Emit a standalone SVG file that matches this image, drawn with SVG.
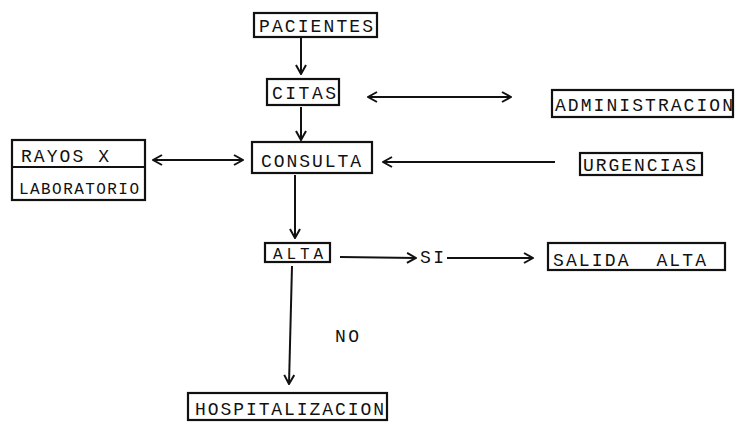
<svg xmlns="http://www.w3.org/2000/svg" width="737" height="422" viewBox="0 0 737 422">
<style>
.box{fill:#fff;stroke:#111;stroke-width:2.2}
.t{font-family:"Liberation Mono","DejaVu Sans Mono",monospace;font-size:18px;fill:#111}
.c{stroke:#111;stroke-width:2;fill:none;marker-end:url(#ah)}
.d{marker-start:url(#ah)}
</style>
<defs>
<marker id="ah" viewBox="0 0 12 12" refX="11" refY="6" markerWidth="12" markerHeight="12" markerUnits="userSpaceOnUse" orient="auto-start-reverse">
<path d="M2,1 L11,6 L2,11" fill="none" stroke="#111" stroke-width="2"/>
</marker>
</defs>
<rect width="737" height="422" fill="#fff"/>
<g id="connectors">
<line class="c" x1="301" y1="38" x2="301" y2="74"/>
<line class="c" x1="301" y1="107" x2="301" y2="140"/>
<line class="c d" x1="368" y1="97" x2="511" y2="97"/>
<line class="c d" x1="153" y1="160" x2="243" y2="160"/>
<line class="c" x1="555" y1="162" x2="383" y2="162"/>
<line class="c" x1="295" y1="175" x2="295" y2="238"/>
<line class="c" x1="340" y1="257" x2="416" y2="258"/>
<line class="c" x1="447" y1="258" x2="533" y2="258"/>
<line class="c" x1="292" y1="266" x2="289" y2="384"/>
</g>
<g id="pacientes"><rect class="box" x="254" y="13" width="123" height="24"/><text class="t" x="259" y="32" textLength="114" lengthAdjust="spacing">PACIENTES</text></g>
<g id="citas"><rect class="box" x="267" y="79" width="72" height="26"/><text class="t" x="272" y="99" textLength="64" lengthAdjust="spacing">CITAS</text></g>
<g id="administracion"><rect class="box" x="552" y="90" width="181" height="27"/><text class="t" x="555" y="111" textLength="178" lengthAdjust="spacing">ADMINISTRACION</text></g>
<g id="rayos-lab"><rect class="box" x="12" y="140" width="133" height="60"/><line x1="12" y1="167" x2="145" y2="167" stroke="#111" stroke-width="2"/><text class="t" x="21" y="162" textLength="88" lengthAdjust="spacing">RAYOS X</text><text class="t" x="19" y="194" style="font-size:16px" textLength="120" lengthAdjust="spacing">LABORATORIO</text></g>
<g id="consulta"><rect class="box" x="252" y="142" width="120" height="31"/><text class="t" x="261" y="167" textLength="100" lengthAdjust="spacing">CONSULTA</text></g>
<g id="urgencias"><rect class="box" x="580" y="153" width="122" height="22"/><text class="t" x="583" y="171" textLength="113" lengthAdjust="spacing">URGENCIAS</text></g>
<g id="alta"><rect class="box" x="265" y="243" width="65" height="19"/><text class="t" x="273" y="259" style="font-size:16px" textLength="50" lengthAdjust="spacing">ALTA</text></g>
<g id="si"><text class="t" x="420" y="263" textLength="24" lengthAdjust="spacing">SI</text></g>
<g id="salida-alta"><rect class="box" x="548" y="243" width="177" height="27"/><text class="t" x="553" y="266" textLength="153" lengthAdjust="spacing" xml:space="preserve">SALIDA  ALTA</text></g>
<g id="no"><text class="t" x="335" y="342" textLength="24" lengthAdjust="spacing">NO</text></g>
<g id="hospitalizacion"><rect class="box" x="188" y="393" width="199" height="27"/><text class="t" x="195" y="415" textLength="189" lengthAdjust="spacing">HOSPITALIZACION</text></g>
</svg>
